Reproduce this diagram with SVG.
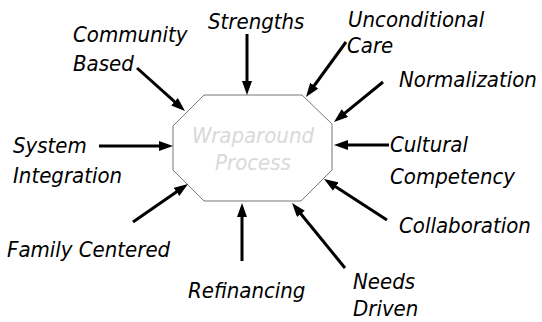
<svg xmlns="http://www.w3.org/2000/svg" width="542" height="322" viewBox="0 0 542 322">
<style>
.lbl{font-family:"DejaVu Sans Condensed","DejaVu Sans",sans-serif;font-stretch:condensed;font-style:italic;font-size:22px;fill:#000}
.ctr{font-family:"DejaVu Sans Condensed","DejaVu Sans",sans-serif;font-stretch:condensed;font-style:italic;font-size:22px;fill:#d9d9d9;text-anchor:middle}
.arr{stroke:#000;stroke-width:3;fill:none;marker-end:url(#ah)}
</style>
<defs>
<marker id="ah" markerUnits="userSpaceOnUse" viewBox="0 0 14 10" markerWidth="14" markerHeight="10" refX="6" refY="5" orient="auto">
<path d="M0,0 L14,5 L0,10 z" fill="#000"/>
</marker>
</defs>
<rect width="542" height="322" fill="#fff"/>
<g id="center">
<polygon points="204,95 302,95 332,124 332,170 301,201 204,201 173,170 173,126" fill="#fff" stroke="#777" stroke-width="1"/>
<text class="ctr" x="253" y="143">Wraparound</text>
<text class="ctr" x="253" y="170">Process</text>
</g>
<g id="connectors">
<line class="arr" x1="137" y1="68" x2="179" y2="105.7"/>
<line class="arr" x1="247" y1="34" x2="247" y2="87"/>
<line class="arr" x1="346" y1="42" x2="310.7" y2="90.5"/>
<line class="arr" x1="383" y1="82" x2="340.2" y2="116.9"/>
<line class="arr" x1="389" y1="145" x2="342" y2="145"/>
<line class="arr" x1="387" y1="220" x2="330.7" y2="183.4"/>
<line class="arr" x1="345" y1="268" x2="297.1" y2="209.2"/>
<line class="arr" x1="242" y1="261" x2="242" y2="211"/>
<line class="arr" x1="133" y1="222" x2="181.4" y2="188.5"/>
<line class="arr" x1="99" y1="146" x2="165" y2="146"/>
</g>
<g id="community"><text class="lbl" x="73" y="42">Community</text><text class="lbl" x="73" y="71">Based</text></g>
<g id="strengths"><text class="lbl" x="208" y="29">Strengths</text></g>
<g id="unconditional"><text class="lbl" x="348" y="27">Unconditional</text><text class="lbl" x="347" y="53">Care</text></g>
<g id="normalization"><text class="lbl" x="399" y="87">Normalization</text></g>
<g id="cultural"><text class="lbl" x="390" y="152">Cultural</text><text class="lbl" x="390" y="184">Competency</text></g>
<g id="collaboration"><text class="lbl" x="399" y="233">Collaboration</text></g>
<g id="needs"><text class="lbl" x="353" y="289">Needs</text><text class="lbl" x="353" y="316">Driven</text></g>
<g id="refinancing"><text class="lbl" x="188" y="298">Refinancing</text></g>
<g id="family"><text class="lbl" x="7" y="257">Family Centered</text></g>
<g id="system"><text class="lbl" x="13" y="153">System</text><text class="lbl" x="13" y="183">Integration</text></g>
</svg>
